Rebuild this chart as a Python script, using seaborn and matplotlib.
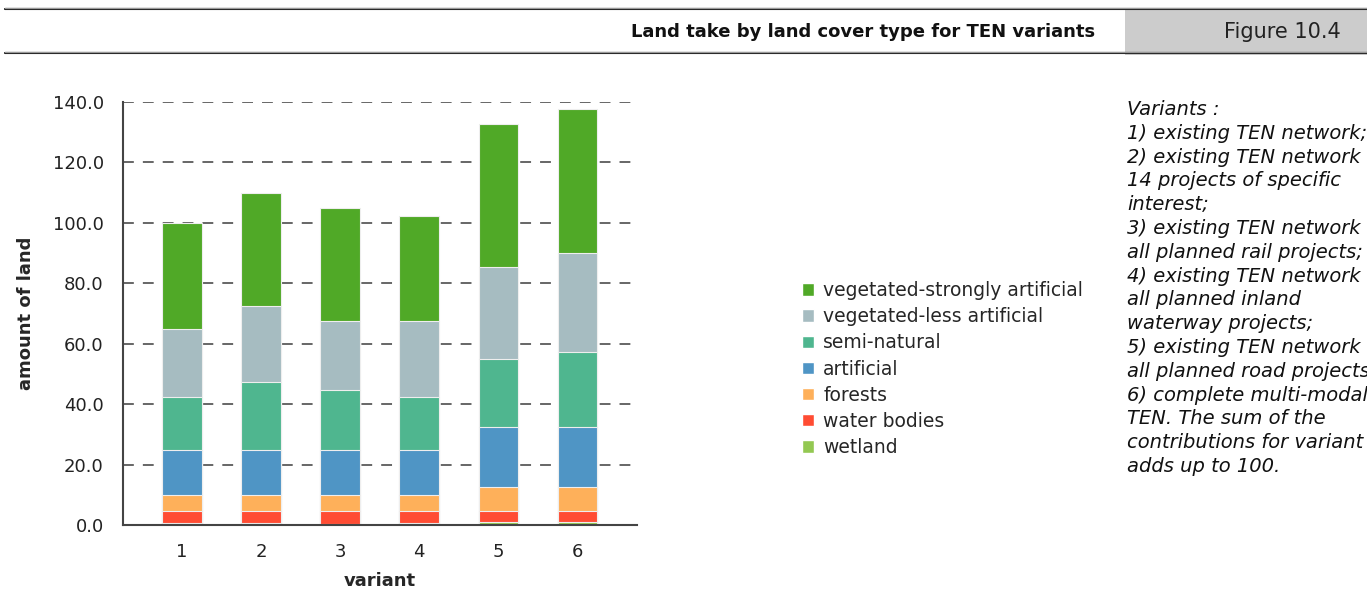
import pandas as pd
import matplotlib.pyplot as plt
import seaborn as sns
from matplotlib.patches import Rectangle, Patch

# Valores (contribuição de cada tipo de cobertura por variante)
variantes = ['1', '2', '3', '4', '5', '6']
wetland = [0.6, 0.8, 0.4, 0.7, 1.0, 1.0]
water_bodies = [4.1, 3.9, 4.3, 4.0, 3.7, 3.7]
forests = [5.2, 5.2, 5.2, 5.2, 7.8, 7.8]
artificial = [15.0, 15.0, 15.0, 15.0, 20.0, 20.0]
semi_natural = [17.6, 22.5, 19.9, 17.6, 22.5, 24.8]
veg_less = [22.5, 25.1, 22.7, 25.0, 30.3, 32.7]
veg_strong = [35.0, 37.5, 37.5, 34.8, 47.3, 47.6]

categorias = ['wetland', 'water bodies', 'forests', 'artificial', 'semi-natural',
              'vegetated-less artificial', 'vegetated-strongly artificial']
cores = ['#93c852', '#ff4c33', '#feb05a', '#4f95c5', '#4fb68f', '#a6bcc1', '#50a927']

sns.set_theme(style='white')
plt.rcParams['font.family'] = ['DejaVu Sans']

dados = pd.DataFrame({'variant': variantes, 'wetland': wetland, 'water bodies': water_bodies,
                      'forests': forests, 'artificial': artificial, 'semi-natural': semi_natural,
                      'vegetated-less artificial': veg_less,
                      'vegetated-strongly artificial': veg_strong})
acumulado = dados[categorias].cumsum(axis=1)

fig = plt.figure(figsize=(13.67, 5.91), dpi=100)
ax = fig.add_axes([0.0902, 0.1117, 0.3756, 0.7157])

# Barras empilhadas: desenha do total para baixo
for cat, cor in reversed(list(zip(categorias, cores))):
    sns.barplot(x=dados['variant'], y=acumulado[cat], order=variantes, color=cor,
                width=0.5, edgecolor='#eeeeee', linewidth=0.8, saturation=1, ax=ax, zorder=3)

ax.set_ylim(0, 140)
ax.set_xlim(-0.742, 5.75)
ax.set_yticks(range(0, 141, 20))
ax.set_yticklabels([f'{v:.1f}' for v in range(0, 141, 20)])
ax.grid(axis='y', color='#5a5a5a', linestyle=(0, (6, 5)), linewidth=1.3, zorder=0)
ax.tick_params(axis='both', length=0, labelsize=13, colors='#222222')
ax.tick_params(axis='y', pad=14)
ax.tick_params(axis='x', pad=13)
for lado in ['top', 'right']:
    ax.spines[lado].set_visible(False)
for lado in ['left', 'bottom']:
    ax.spines[lado].set_color('#444444')
    ax.spines[lado].set_linewidth(1.5)
    ax.spines[lado].set_zorder(4)
ax.set_xlabel('variant', fontsize=13, fontweight='bold', labelpad=8)
ax.set_ylabel('amount of land', fontsize=13, fontweight='bold', labelpad=13)

# Legenda
handles = [Patch(facecolor=c, label=l) for l, c in zip(categorias, cores)][::-1]
fig.legend(handles=handles, loc='upper left', bbox_to_anchor=(0.581, 0.537), frameon=False,
           fontsize=13.5, handlelength=0.65, handleheight=0.65, handletextpad=0.5,
           labelspacing=0.38, borderaxespad=0)

# Texto das variantes (cortado na borda direita, como no original)
texto = ('Variants :\n1) existing TEN network;\n2) existing TEN network +\n'
         '14 projects of specific\ninterest;\n3) existing TEN network +\n'
         'all planned rail projects;\n4) existing TEN network +\nall planned inland\n'
         'waterway projects;\n5) existing TEN network +\nall planned road projects;\n'
         '6) complete multi-modal\nTEN. The sum of the\ncontributions for variant 1\n'
         'adds up to 100.')
fig.text(1127 / 1367, 1 - 100 / 591, texto, ha='left', va='top', fontsize=14,
         style='italic', linespacing=1.32, color='#111111')

# Cabeçalho
fig.patches.append(Rectangle((1125 / 1367, 1 - 55 / 591), 242 / 1367, 45 / 591,
                             transform=fig.transFigure, facecolor='#cccccc',
                             edgecolor='none', zorder=0))
for y in [9, 53]:
    fig.add_artist(plt.Line2D([5 / 1367, 1], [1 - y / 591] * 2, color='#111111',
                              linewidth=1.5, transform=fig.transFigure))
    fig.add_artist(plt.Line2D([5 / 1367, 1], [1 - (y - 1.5) / 591] * 2, color='#999999',
                              linewidth=1, transform=fig.transFigure))
fig.text(1095 / 1367, 1 - 32 / 591, 'Land take by land cover type for TEN variants',
         ha='right', va='center', fontsize=13, fontweight='bold', color='#111111')
fig.text(1282 / 1367, 1 - 32 / 591, 'Figure 10.4', ha='center', va='center',
         fontsize=15, color='#222222')

fig.savefig('out.png', dpi=100)
